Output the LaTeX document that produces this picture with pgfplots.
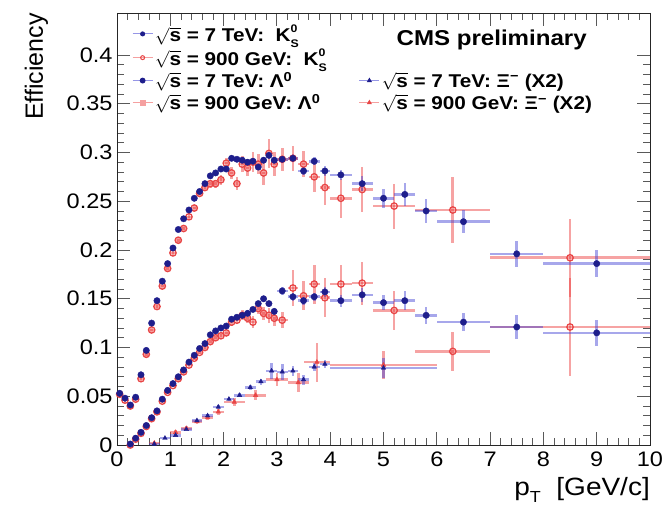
\documentclass[border=0pt]{standalone}
\usepackage{fontspec}
\setmainfont{Liberation Sans}[FakeStretch=1.12]
\newfontfamily\plainfont{Liberation Sans}
\usepackage{pgfplots}
\usepackage{pgfplotstable}
\pgfplotsset{compat=1.18}
\definecolor{bM}{RGB}{30,30,140}
\definecolor{bE}{RGB}{60,60,210}
\definecolor{bL}{RGB}{150,150,230}
\definecolor{rM}{RGB}{232,70,70}
\definecolor{rE}{RGB}{235,50,50}
\definecolor{rL}{RGB}{245,160,160}
\newcommand{\rs}{$\sqrt{\mbox{s}}$}
\newcommand{\KS}{K\rlap{\raisebox{0.5em}{\fontsize{11}{11}\selectfont 0}}\raisebox{-0.33em}{\fontsize{11}{11}\selectfont S}}
\pgfplotsset{
  eb/.style={only marks,
    error bars/x dir=both, error bars/x explicit,
    error bars/y dir=both, error bars/y explicit,
    error bars/error mark=none,
    error bars/error bar style={line width=2.6pt, draw=#1, opacity=0.45, solid}},
}
\pgfplotstableread{
x y ex ey
0.05 0.053 0.05 0.002
0.15 0.048 0.05 0.002
0.25 0.041 0.05 0.002
0.35 0.049 0.05 0.002
0.45 0.072 0.05 0.002
0.55 0.097 0.05 0.002
0.65 0.125 0.05 0.002
0.75 0.148 0.05 0.002
0.85 0.168 0.05 0.002
0.95 0.186 0.05 0.002
1.05 0.202 0.05 0.002
1.15 0.221 0.05 0.002
1.25 0.232 0.05 0.002
1.35 0.241 0.05 0.002
1.45 0.253 0.05 0.002
1.55 0.260 0.05 0.002
1.65 0.268 0.05 0.002
1.75 0.276 0.05 0.002
1.85 0.279 0.05 0.002
1.95 0.283 0.05 0.002
2.05 0.283 0.05 0.002
2.15 0.294 0.05 0.002
2.25 0.293 0.05 0.002
2.35 0.292 0.05 0.003
2.45 0.290 0.05 0.003
2.55 0.291 0.05 0.003
2.65 0.285 0.05 0.003
2.75 0.292 0.05 0.003
2.85 0.297 0.05 0.003
2.95 0.292 0.05 0.003
3.1 0.293 0.1 0.003
3.3 0.294 0.1 0.004
3.5 0.281 0.1 0.004
3.7 0.291 0.1 0.004
3.9 0.281 0.1 0.005
4.2 0.277 0.2 0.005
4.6 0.268 0.2 0.008
5.0 0.253 0.2 0.010
5.4 0.257 0.2 0.012
5.8 0.240 0.2 0.012
6.5 0.229 0.5 0.012
7.5 0.196 0.5 0.013
9.0 0.186 1.0 0.014
}\Ksev
\pgfplotstableread{
x y ex ey
0.05 0.052 0.05 0.003
0.15 0.046 0.05 0.003
0.25 0.040 0.05 0.003
0.35 0.047 0.05 0.003
0.45 0.068 0.05 0.003
0.55 0.093 0.05 0.003
0.65 0.118 0.05 0.003
0.75 0.142 0.05 0.003
0.85 0.163 0.05 0.003
0.95 0.181 0.05 0.003
1.05 0.197 0.05 0.003
1.15 0.210 0.05 0.003
1.25 0.222 0.05 0.003
1.35 0.234 0.05 0.003
1.45 0.243 0.05 0.003
1.55 0.258 0.05 0.004
1.65 0.264 0.05 0.004
1.75 0.268 0.05 0.004
1.85 0.268 0.05 0.004
1.95 0.272 0.05 0.005
2.05 0.289 0.05 0.005
2.15 0.279 0.05 0.006
2.25 0.268 0.05 0.007
2.35 0.288 0.05 0.008
2.45 0.284 0.05 0.008
2.55 0.290 0.05 0.010
2.65 0.288 0.05 0.010
2.75 0.279 0.05 0.012
2.85 0.299 0.05 0.015
2.95 0.288 0.05 0.012
3.1 0.293 0.1 0.012
3.3 0.294 0.1 0.013
3.5 0.288 0.1 0.013
3.7 0.275 0.1 0.016
3.9 0.264 0.1 0.018
4.2 0.253 0.2 0.020
4.6 0.262 0.2 0.023
5.2 0.245 0.4 0.023
6.3 0.241 0.7 0.034
8.5 0.192 1.5 0.040
}\Knine
\pgfplotstableread{
x y ex ey
0.25 0.001 0.05 0.001
0.35 0.007 0.05 0.001
0.45 0.013 0.05 0.001
0.55 0.020 0.05 0.001
0.65 0.028 0.05 0.001
0.75 0.035 0.05 0.001
0.85 0.047 0.05 0.001
0.95 0.056 0.05 0.001
1.05 0.063 0.05 0.001
1.15 0.070 0.05 0.001
1.25 0.077 0.05 0.001
1.35 0.085 0.05 0.001
1.45 0.092 0.05 0.001
1.55 0.099 0.05 0.001
1.65 0.104 0.05 0.002
1.75 0.113 0.05 0.002
1.85 0.117 0.05 0.002
1.95 0.120 0.05 0.002
2.05 0.122 0.05 0.002
2.15 0.129 0.05 0.002
2.25 0.131 0.05 0.002
2.35 0.133 0.05 0.002
2.45 0.135 0.05 0.003
2.55 0.139 0.05 0.003
2.65 0.145 0.05 0.003
2.75 0.150 0.05 0.003
2.85 0.145 0.05 0.003
2.95 0.137 0.05 0.003
3.1 0.158 0.1 0.004
3.3 0.152 0.1 0.004
3.5 0.148 0.1 0.004
3.7 0.152 0.1 0.004
3.9 0.157 0.1 0.005
4.2 0.148 0.2 0.006
4.6 0.154 0.2 0.007
5.0 0.146 0.2 0.008
5.4 0.148 0.2 0.010
5.8 0.133 0.2 0.009
6.5 0.126 0.5 0.009
7.5 0.121 0.5 0.012
9.0 0.115 1.0 0.013
}\Lsev
\pgfplotstableread{
x y ex ey
0.25 0.000 0.05 0.001
0.35 0.006 0.05 0.001
0.45 0.012 0.05 0.001
0.55 0.019 0.05 0.001
0.65 0.027 0.05 0.001
0.75 0.034 0.05 0.001
0.85 0.045 0.05 0.002
0.95 0.054 0.05 0.002
1.05 0.061 0.05 0.002
1.15 0.068 0.05 0.002
1.25 0.075 0.05 0.002
1.35 0.082 0.05 0.002
1.45 0.089 0.05 0.002
1.55 0.095 0.05 0.002
1.65 0.100 0.05 0.003
1.75 0.106 0.05 0.003
1.85 0.110 0.05 0.003
1.95 0.112 0.05 0.003
2.05 0.115 0.05 0.003
2.15 0.126 0.05 0.004
2.25 0.128 0.05 0.004
2.35 0.133 0.05 0.005
2.45 0.130 0.05 0.005
2.55 0.126 0.05 0.006
2.65 0.140 0.05 0.006
2.75 0.135 0.05 0.007
2.85 0.133 0.05 0.008
2.95 0.130 0.05 0.008
3.1 0.128 0.1 0.008
3.3 0.161 0.1 0.018
3.5 0.153 0.1 0.015
3.7 0.165 0.1 0.020
3.9 0.151 0.1 0.020
4.2 0.165 0.2 0.020
4.6 0.166 0.2 0.022
5.2 0.138 0.4 0.020
6.3 0.096 0.7 0.020
8.5 0.121 1.5 0.050
}\Lnine
\pgfplotstableread{
x y ex ey
0.7 0.001 0.1 0.001
0.9 0.007 0.1 0.001
1.1 0.010 0.1 0.001
1.3 0.016 0.1 0.001
1.5 0.025 0.1 0.001
1.7 0.030 0.1 0.002
1.9 0.039 0.1 0.002
2.1 0.047 0.1 0.002
2.3 0.051 0.1 0.002
2.5 0.059 0.1 0.003
2.7 0.065 0.1 0.003
2.9 0.076 0.1 0.008
3.1 0.075 0.1 0.008
3.3 0.076 0.1 0.005
3.5 0.067 0.1 0.005
3.7 0.080 0.1 0.004
3.9 0.083 0.1 0.004
5.0 0.079 1.0 0.010
}\Xsev
\pgfplotstableread{
x y ex ey
0.7 0.002 0.1 0.001
1.1 0.013 0.1 0.002
1.3 0.017 0.1 0.002
1.5 0.024 0.1 0.002
1.7 0.028 0.1 0.002
1.9 0.034 0.1 0.003
2.2 0.044 0.2 0.004
2.6 0.051 0.2 0.005
3.0 0.067 0.2 0.007
3.4 0.064 0.2 0.010
3.75 0.085 0.25 0.020
5.0 0.082 1.0 0.014
}\Xnine
\begin{document}
\begin{tikzpicture}
\begin{axis}[
  scale only axis, width=533pt, height=432pt,
  xmin=0, xmax=10, ymin=0, ymax=0.443,
  xtick={0,1,...,10},
  ytick={0,0.05,0.1,0.15,0.2,0.25,0.3,0.35,0.4},
  yticklabels={0,0.05,0.1,0.15,0.2,0.25,0.3,0.35,0.4},
  minor x tick num=4, minor y tick num=4,
  xtick pos=both, ytick pos=both,
  xticklabel pos=lower, yticklabel pos=left,
  tick align=inside, major tick length=13pt, minor tick length=7pt,
  axis line style={line width=0.9pt, black!85},
  tick style={line width=0.8pt, black!65},
  /pgf/number format/assume math mode=true,
  ticklabel style={font=\fontsize{21}{21}\selectfont},
  xticklabel style={yshift=-3.5pt},
  yticklabel style={xshift=-1pt},
  xlabel={p\raisebox{-0.3em}{\fontsize{16}{16}\selectfont T}\ \ [GeV/c]},
  xlabel style={at={(axis description cs:1,-0.074)}, anchor=north east, inner sep=0pt, font=\fontsize{25}{25}\selectfont},
  ylabel={Efficiency},
  ylabel style={at={(axis description cs:-0.129,1)}, anchor=south east, inner sep=0pt, font=\plainfont\fontsize{25}{25}\selectfont},
  legend columns=2, legend cell align=left,
  legend style={at={(axis description cs:0.028,0.978)}, anchor=north west, draw=none, fill=none,
    font=\bfseries\fontsize{18.5}{21}\selectfont, row sep=1.3pt, inner sep=0pt,
    /tikz/every even column/.append style={column sep=30pt}},
  legend image code/.code={\draw[#1, mark repeat=2, mark phase=2] plot coordinates {(0pt,0pt) (10pt,0pt) (20pt,0pt)};},
]
% red K0S 900 GeV
\addplot[mark=o, mark size=3.2pt, mark options={draw=rM, fill=white, line width=1.3pt}, forget plot, eb=rE]
  table[x=x, y=y, x error=ex, y error=ey] {\Knine};
% blue K0S 7 TeV
\addplot[mark=*, mark size=3.2pt, mark options={draw=bM, fill=bM}, forget plot, eb=bE]
  table[x=x, y=y, x error=ex, y error=ey] {\Ksev};
% red Lambda 900 GeV
\addplot[mark=o, mark size=3.2pt, mark options={draw=rM, fill=white, line width=1.3pt}, forget plot, eb=rE]
  table[x=x, y=y, x error=ex, y error=ey] {\Lnine};
% blue Lambda 7 TeV
\addplot[mark=*, mark size=3.2pt, mark options={draw=bM, fill=bM}, forget plot, eb=bE]
  table[x=x, y=y, x error=ex, y error=ey] {\Lsev};
% red Xi 900 GeV
\addplot[mark=triangle*, mark size=2.6pt, mark options={draw=rM, fill=rM}, forget plot, eb=rE]
  table[x=x, y=y, x error=ex, y error=ey] {\Xnine};
% blue Xi 7 TeV
\addplot[mark=triangle*, mark size=2.6pt, mark options={draw=bM, fill=bM}, forget plot, eb=bE]
  table[x=x, y=y, x error=ex, y error=ey] {\Xsev};

\addlegendimage{draw=bL, line width=1pt, mark=*, mark size=2pt, mark options={draw=bM, fill=bM}}
\addlegendentry{\rs{} = 7 TeV:\ \ \KS}
\addlegendimage{empty legend}
\addlegendentry{}
\addlegendimage{draw=rL, line width=1pt, mark=o, mark size=2pt, mark options={draw=rM, fill=white}}
\addlegendentry{\rs{} = 900 GeV:\ \ \KS}
\addlegendimage{empty legend}
\addlegendentry{}
\addlegendimage{draw=bL, line width=1pt, mark=*, mark size=2.4pt, mark options={draw=bM, fill=bM}}
\addlegendentry{\rs{} = 7 TeV: Λ\textsuperscript{0}}
\addlegendimage{draw=bL, line width=1pt, mark=triangle*, mark size=2pt, mark options={draw=bM, fill=bM}}
\addlegendentry{\rs{} = 7 TeV: Ξ\textsuperscript{−} (X2)}
\addlegendimage{draw=rL, line width=1pt, mark=square*, mark size=2.4pt, mark options={draw=rL, fill=rL}}
\addlegendentry{\rs{} = 900 GeV: Λ\textsuperscript{0}}
\addlegendimage{draw=rL, line width=1pt, mark=triangle*, mark size=2pt, mark options={draw=rM, fill=rM}}
\addlegendentry{\rs{} = 900 GeV: Ξ\textsuperscript{−} (X2)}

\node[font=\bfseries\fontsize{21.5}{21.5}\selectfont] at (axis description cs:0.703,0.9375) {CMS preliminary};
\end{axis}
\path (current axis.south west) +(-117pt,-65pt) coordinate (bbA);
\path (current axis.north east) +(17pt,13pt) coordinate (bbB);
\path (bbA) rectangle (bbB);
\end{tikzpicture}
\end{document}
